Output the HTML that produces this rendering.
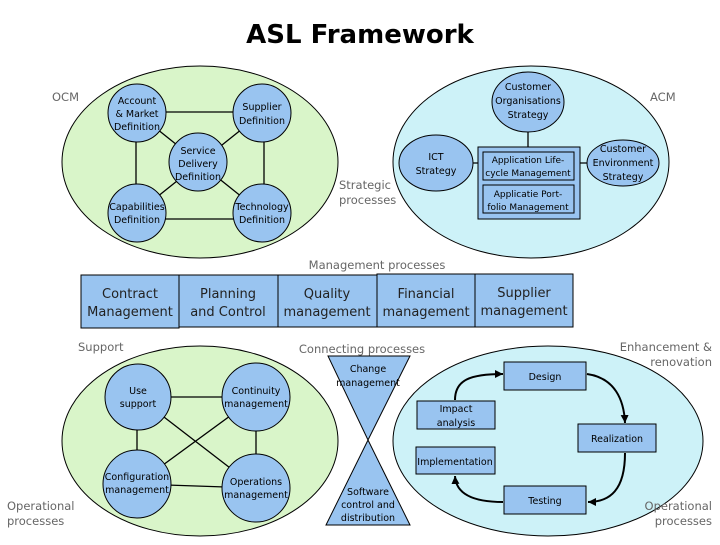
<!DOCTYPE html>
<html><head><meta charset="utf-8"><style>
body{margin:0;background:#fff}
svg text{font-family:"DejaVu Sans","Liberation Sans",sans-serif}
</style></head><body>
<svg width="720" height="540" viewBox="0 0 720 540" xmlns="http://www.w3.org/2000/svg">
<defs><marker id="ar" markerUnits="userSpaceOnUse" markerWidth="10" markerHeight="10" refX="8" refY="4" orient="auto"><path d="M0,0 L8,4 L0,8 z" fill="#000"/></marker></defs>
<text x="360" y="43" text-anchor="middle" font-size="26" font-weight="bold">ASL Framework</text>
<g stroke="#000" stroke-width="1">
<ellipse cx="200" cy="162" rx="138" ry="96" fill="#d9f5c9"/>
<ellipse cx="531" cy="162" rx="138" ry="96" fill="#cdf2f8"/>
<ellipse cx="200" cy="441" rx="138" ry="95" fill="#d9f5c9"/>
<ellipse cx="548" cy="441" rx="155" ry="95" fill="#cdf2f8"/>
<g stroke-width="1.3">
<line x1="137" y1="112" x2="262" y2="112"/><line x1="137" y1="219" x2="262" y2="219"/>
<line x1="136" y1="113" x2="136" y2="213"/><line x1="264" y1="113" x2="264" y2="213"/>
<line x1="137" y1="113" x2="262" y2="213"/><line x1="262" y1="113" x2="137" y2="213"/>
<line x1="138" y1="397" x2="256" y2="397"/><line x1="137" y1="484" x2="256" y2="488"/>
<line x1="137" y1="397" x2="137" y2="484"/><line x1="256" y1="397" x2="256" y2="488"/>
<line x1="138" y1="397" x2="256" y2="488"/><line x1="256" y1="397" x2="137" y2="484"/>
<line x1="528" y1="120" x2="528" y2="150"/><line x1="470" y1="163" x2="590" y2="163"/>
</g>
<g fill="#99c4f0">
<circle cx="137" cy="113" r="29"/><circle cx="262" cy="113" r="29"/><circle cx="198" cy="162" r="29"/>
<circle cx="137" cy="213" r="29"/><circle cx="262" cy="213" r="29"/>
<circle cx="138" cy="397" r="33"/><circle cx="256" cy="397" r="34"/>
<circle cx="137" cy="484" r="34"/><circle cx="256" cy="488" r="34"/>
<ellipse cx="528" cy="102" rx="36" ry="30"/><ellipse cx="436" cy="163" rx="37" ry="28"/><ellipse cx="623" cy="163" rx="36" ry="23"/>
<rect x="478" y="147" width="102" height="72"/>
<rect x="483" y="152" width="91" height="28"/><rect x="483" y="185" width="91" height="28"/>
<rect x="81" y="275" width="98" height="53"/><rect x="179" y="275" width="99" height="52"/>
<rect x="278" y="275" width="99" height="52"/><rect x="377" y="274" width="98" height="53"/><rect x="475" y="274" width="98" height="53"/>
<path d="M328,356 L410,356 L368,440 Z"/><path d="M368,440 L410,525 L326,525 Z"/>
<rect x="504" y="362" width="82" height="28"/><rect x="417" y="401" width="78" height="28"/>
<rect x="578" y="424" width="78" height="28"/><rect x="416" y="447" width="79" height="27"/>
<rect x="504" y="486" width="82" height="28"/>
</g>
<g fill="none" stroke-width="2" marker-end="url(#ar)">
<path d="M455,400 C455,380 470,374 503,374"/>
<path d="M587,374 C615,378 624,400 625,423"/>
<path d="M625,453 C625,490 610,502 588,502"/>
<path d="M503,502 C475,502 456,495 455,476"/>
</g>
</g>
<g fill="#666" font-size="11.5">
<text x="52" y="101">OCM</text>
<text x="650" y="101">ACM</text>
<text x="339" y="189">Strategic</text><text x="339" y="204">processes</text>
<text x="377" y="269" text-anchor="middle">Management processes</text>
<text x="78" y="351">Support</text>
<text x="362" y="353" text-anchor="middle">Connecting processes</text>
<text x="712" y="351" text-anchor="end">Enhancement &amp;</text><text x="712" y="366" text-anchor="end">renovation</text>
<text x="7" y="510">Operational</text><text x="7" y="525">processes</text>
<text x="712" y="510" text-anchor="end">Operational</text><text x="712" y="525" text-anchor="end">processes</text>
</g>
<g font-size="9.5" text-anchor="middle" fill="#000">
<text x="137" y="104">Account</text><text x="137" y="117">&amp; Market</text><text x="137" y="130">Definition</text>
<text x="262" y="110">Supplier</text><text x="262" y="124">Definition</text>
<text x="198" y="154">Service</text><text x="198" y="167">Delivery</text><text x="198" y="180">Definition</text>
<text x="137" y="210">Capabilities</text><text x="137" y="223">Definition</text>
<text x="262" y="210">Technology</text><text x="262" y="223">Definition</text>
<text x="528" y="90">Customer</text><text x="528" y="104">Organisations</text><text x="528" y="118">Strategy</text>
<text x="436" y="160">ICT</text><text x="436" y="174">Strategy</text>
<text x="623" y="152">Customer</text><text x="623" y="166">Environment</text><text x="623" y="180">Strategy</text>
<text x="528" y="163" font-size="9">Application Life-</text><text x="528" y="176" font-size="9">cycle Management</text>
<text x="528" y="197" font-size="9">Applicatie Port-</text><text x="528" y="210" font-size="9">folio Management</text>
<text x="138" y="394">Use</text><text x="138" y="407">support</text>
<text x="256" y="394">Continuity</text><text x="256" y="407">management</text>
<text x="137" y="480">Configuration</text><text x="137" y="493">management</text>
<text x="256" y="485">Operations</text><text x="256" y="498">management</text>
<text x="368" y="372">Change</text><text x="368" y="386">management</text>
<text x="368" y="495">Software</text><text x="368" y="508">control and</text><text x="368" y="521">distribution</text>
<text x="545" y="380">Design</text>
<text x="456" y="412">Impact</text><text x="456" y="426">analysis</text>
<text x="617" y="442">Realization</text>
<text x="455" y="465">Implementation</text>
<text x="545" y="504">Testing</text>
</g>
<g font-size="13" text-anchor="middle" fill="#222">
<text x="130" y="298">Contract</text><text x="130" y="316">Management</text>
<text x="228" y="298">Planning</text><text x="228" y="316">and Control</text>
<text x="327" y="298">Quality</text><text x="327" y="316">management</text>
<text x="426" y="298">Financial</text><text x="426" y="316">management</text>
<text x="524" y="297">Supplier</text><text x="524" y="315">management</text>
</g>
</svg>
</body></html>
